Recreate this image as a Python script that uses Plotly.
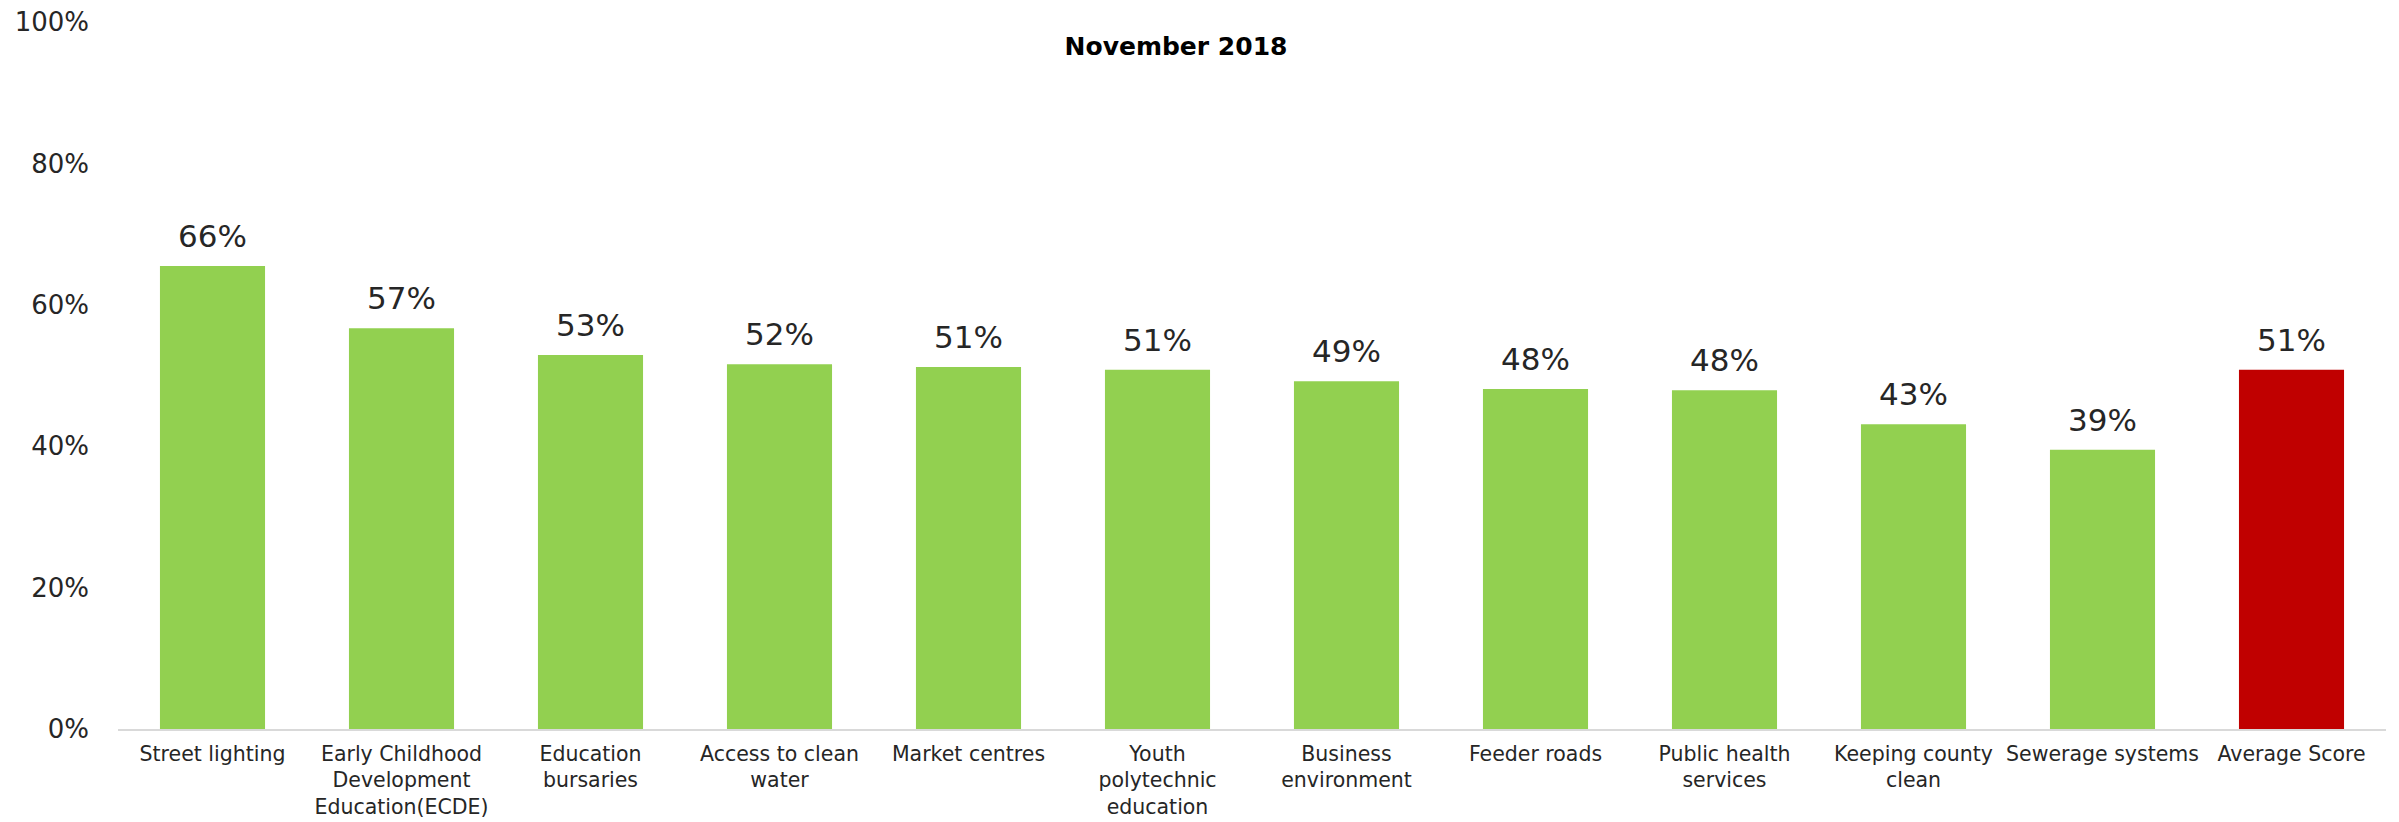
import plotly.graph_objects as go

categories = [
    "Street lighting",
    "Early Childhood<br>Development<br>Education(ECDE)",
    "Education<br>bursaries",
    "Access to clean<br>water",
    "Market centres",
    "Youth<br>polytechnic<br>education",
    "Business<br>environment",
    "Feeder roads",
    "Public health<br>services",
    "Keeping county<br>clean",
    "Sewerage systems",
    "Average Score",
]
values = [0.655, 0.567, 0.529, 0.516, 0.512, 0.508, 0.492, 0.481, 0.479, 0.431, 0.395, 0.508]
labels = ["66%", "57%", "53%", "52%", "51%", "51%", "49%", "48%", "48%", "43%", "39%", "51%"]
bar_colors = ["#92D050"] * 11 + ["#C00000"]
y_ticks = [0, 0.2, 0.4, 0.6, 0.8, 1.0]
title_text = "November 2018"

FONT = "DejaVu Sans"

fig = go.Figure()
fig.add_trace(go.Bar(
    x=categories, y=values,
    marker=dict(color=bar_colors, line=dict(width=0)),
    hoverinfo="skip",
))

for c, v, t in zip(categories, values, labels):
    fig.add_annotation(
        x=c, y=v, text=t, showarrow=False, yanchor="bottom",
        yshift=10, font=dict(family=FONT, size=31, color="#262626"),
    )

fig.update_layout(
    width=2399, height=822,
    margin=dict(l=118, r=13, t=22, b=93),
    paper_bgcolor="white", plot_bgcolor="white",
    bargap=0.444,
    showlegend=False,
    title=dict(text="<b>" + title_text + "</b>", x=1176 / 2399, xanchor="center",
               y=1 - 46 / 822, yanchor="middle",
               font=dict(family=FONT, size=25, color="#000000")),
    font=dict(family=FONT, color="#262626"),
)
fig.update_xaxes(
    showline=True, linecolor="#D9D9D9", linewidth=2,
    ticks="", tickfont=dict(family=FONT, size=20.5, color="#262626"),
    showgrid=False, zeroline=False, ticklabelstandoff=5, automargin=False,
)
fig.update_yaxes(
    range=[0, 1], tickvals=y_ticks, tickformat=".0%",
    showgrid=False, zeroline=False, showline=False,
    tickfont=dict(family=FONT, size=26, color="#262626"),
    ticks="", ticklabelstandoff=28, automargin=False,
)

fig.write_html(
    "out.html",
    config={"displayModeBar": False},
    post_script="document.body.style.margin='0px';document.body.style.overflow='hidden';",
)
